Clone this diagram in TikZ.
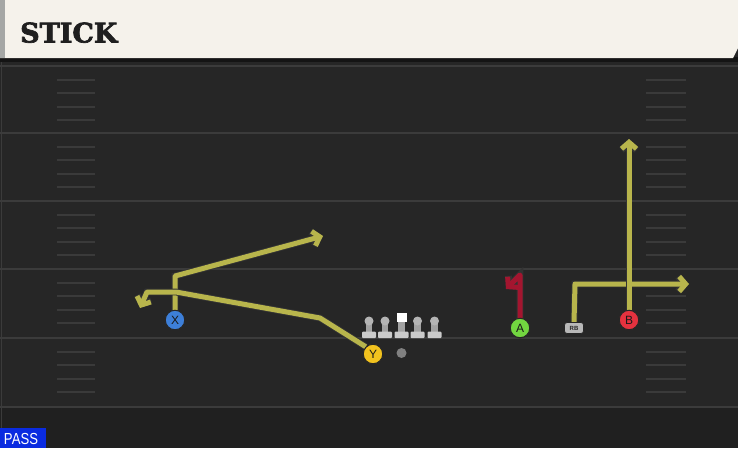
\documentclass[tikz,border=0pt]{standalone}
\usepackage{fontspec}
\setmainfont{Liberation Sans}
\newfontfamily\titlefont{DejaVu Serif}[UprightFont={* Bold}, UprightFeatures={FakeBold=2.5}]
\usetikzlibrary{arrows.meta}
\definecolor{field}{HTML}{262626}
\definecolor{fieldlow}{HTML}{202020}
\definecolor{yardline}{HTML}{3B3B3B}
\definecolor{hashc}{HTML}{3A3A3A}
\definecolor{cream}{HTML}{F5F2EB}
\definecolor{stripc}{HTML}{A5A7A5}
\definecolor{routec}{HTML}{B8B54C}
\definecolor{redroute}{HTML}{A3152F}
\definecolor{xblue}{HTML}{3D7FD8}
\definecolor{yyellow}{HTML}{F2C21E}
\definecolor{agreen}{HTML}{72D640}
\definecolor{bred}{HTML}{E4323F}
\definecolor{olhead}{HTML}{B4B4B4}
\definecolor{olstem}{HTML}{A2A2A2}
\definecolor{olbase}{HTML}{CACACA}
\definecolor{passblue}{HTML}{0A2BE0}
\tikzset{
  yard/.style={draw=yardline, line width=2.2pt},
  hashmark/.style={draw=hashc, line width=2pt},
  player/.style={circle, draw=black!85, line width=1pt, minimum size=19.5pt, inner sep=0pt,
    font=\fontsize{12}{12}\selectfont, text=black!90},
  rbstyle/.style={draw=black!85, line width=0.8pt, fill=black!28, rounded corners=2.5pt, minimum width=19pt,
    minimum height=11pt, inner sep=0pt, font=\fontsize{6}{6}\selectfont\bfseries, text=black!85},
  route/.style={draw=routec, line width=5pt, line join=round,
    preaction={draw=black!80, line width=6.8pt}},
  tipc/.style={-{Straight Barb[length=6.5pt,width=15pt,line join=miter]}},
  lineman/.pic={
    \fill[olstem] (-3.2,2) rectangle (3.2,11);
    \fill[olbase, rounded corners=1pt] (-7,10.5) rectangle (7,17);
    \fill[olhead] (0,0) circle (4.5);
  },
  centerman/.pic={
    \fill[olstem] (-3.2,1) rectangle (3.2,11);
    \fill[olbase, rounded corners=1pt] (-7,10.5) rectangle (7,17);
    \fill[white] (-5,-8.5) rectangle (5,1);
  }
}
\begin{document}
\begin{tikzpicture}[x=1pt,y=-1pt]
\useasboundingbox (0,0) rectangle (738,448);
\fill[field] (0,0) rectangle (738,448);
\fill[fieldlow] (0,408) rectangle (738,448);
\draw[yardline, line width=1pt] (1.5,62) -- (1.5,448);
% yard lines
\foreach \yy in {66,133,201,269,338,407} {
  \draw[yard] (0,\yy) -- (738,\yy);
}
% hash marks
\foreach \yy in {66,133,201,269,338} {
  \foreach \k in {13.5,27,40.5,54} {
    \draw[hashmark] (57,\yy+\k) -- (95,\yy+\k);
    \draw[hashmark] (646,\yy+\k) -- (686,\yy+\k);
  }
}
% header
\fill[black!92] (0,57) rectangle (738,62);
\fill[cream] (0,0) -- (738,0) -- (738,48) -- (733,58) -- (0,58) -- cycle;
\fill[stripc] (0,0) rectangle (5,58);
\node[anchor=base west, inner sep=0pt, text=black!88] (title) at (20,42.5)
  {\titlefont\fontsize{27}{27}\selectfont STICK};
% offensive line
\coordinate (LT) at (369,321);
\coordinate (LG) at (385,321);
\coordinate (C) at (401.5,321);
\coordinate (RG) at (417.5,321);
\coordinate (RT) at (434.5,321);
\pic at (LT) {lineman};
\pic at (LG) {lineman};
\pic at (C) {centerman};
\pic at (RG) {lineman};
\pic at (RT) {lineman};
\node[circle, fill=black!50, minimum size=10pt, inner sep=0pt] (ball) at (401.5,353) {};
% players
\node[player, fill=xblue] (X) at (175,320) {X};
\node[player, fill=yyellow] (Y) at (373,354) {Y};
\node[player, fill=agreen] (A) at (520,328) {A};
\node[player, fill=bred] (B) at (629,320) {B};
\node[rbstyle] (RB) at (574,328) {RB};
% route waypoints
\coordinate (x1) at (175,276);
\coordinate (x2) at (323,236);
\coordinate (y1) at (320,318);
\coordinate (y2) at (176,292);
\coordinate (y3) at (147,292);
\coordinate (y4) at (140,308);
\coordinate (a1) at (520,275);
\coordinate (a2) at (506,289);
\coordinate (r1) at (575,284);
\coordinate (r2) at (689,284);
\coordinate (b1) at (629,139);
% routes
\draw[route, tipc] (X.north) -- (x1) -- (x2);
\draw[route, tipc] (Y.north west) -- (y1) -- (y2) -- (y3) -- (y4);
\draw[route, draw=redroute, tipc] (A.north) -- (a1) -- (a2);
\draw[route, tipc] (RB.north) -- (r1) -- (r2);
\draw[route, tipc] (B.north) -- (b1);
% redraw players on top
\node[player, fill=xblue] at (X) {X};
\node[player, fill=yyellow] at (Y) {Y};
\node[player, fill=agreen] at (A) {A};
\node[player, fill=bred] at (B) {B};
\node[rbstyle] at (RB) {RB};
% PASS label
\fill[passblue] (0,428) rectangle (46,448);
\node[text=white, inner sep=0pt, xscale=0.82, font=\fontsize{16}{16}\selectfont] (pass) at (21,438.5) {PASS};
\end{tikzpicture}
\end{document}
